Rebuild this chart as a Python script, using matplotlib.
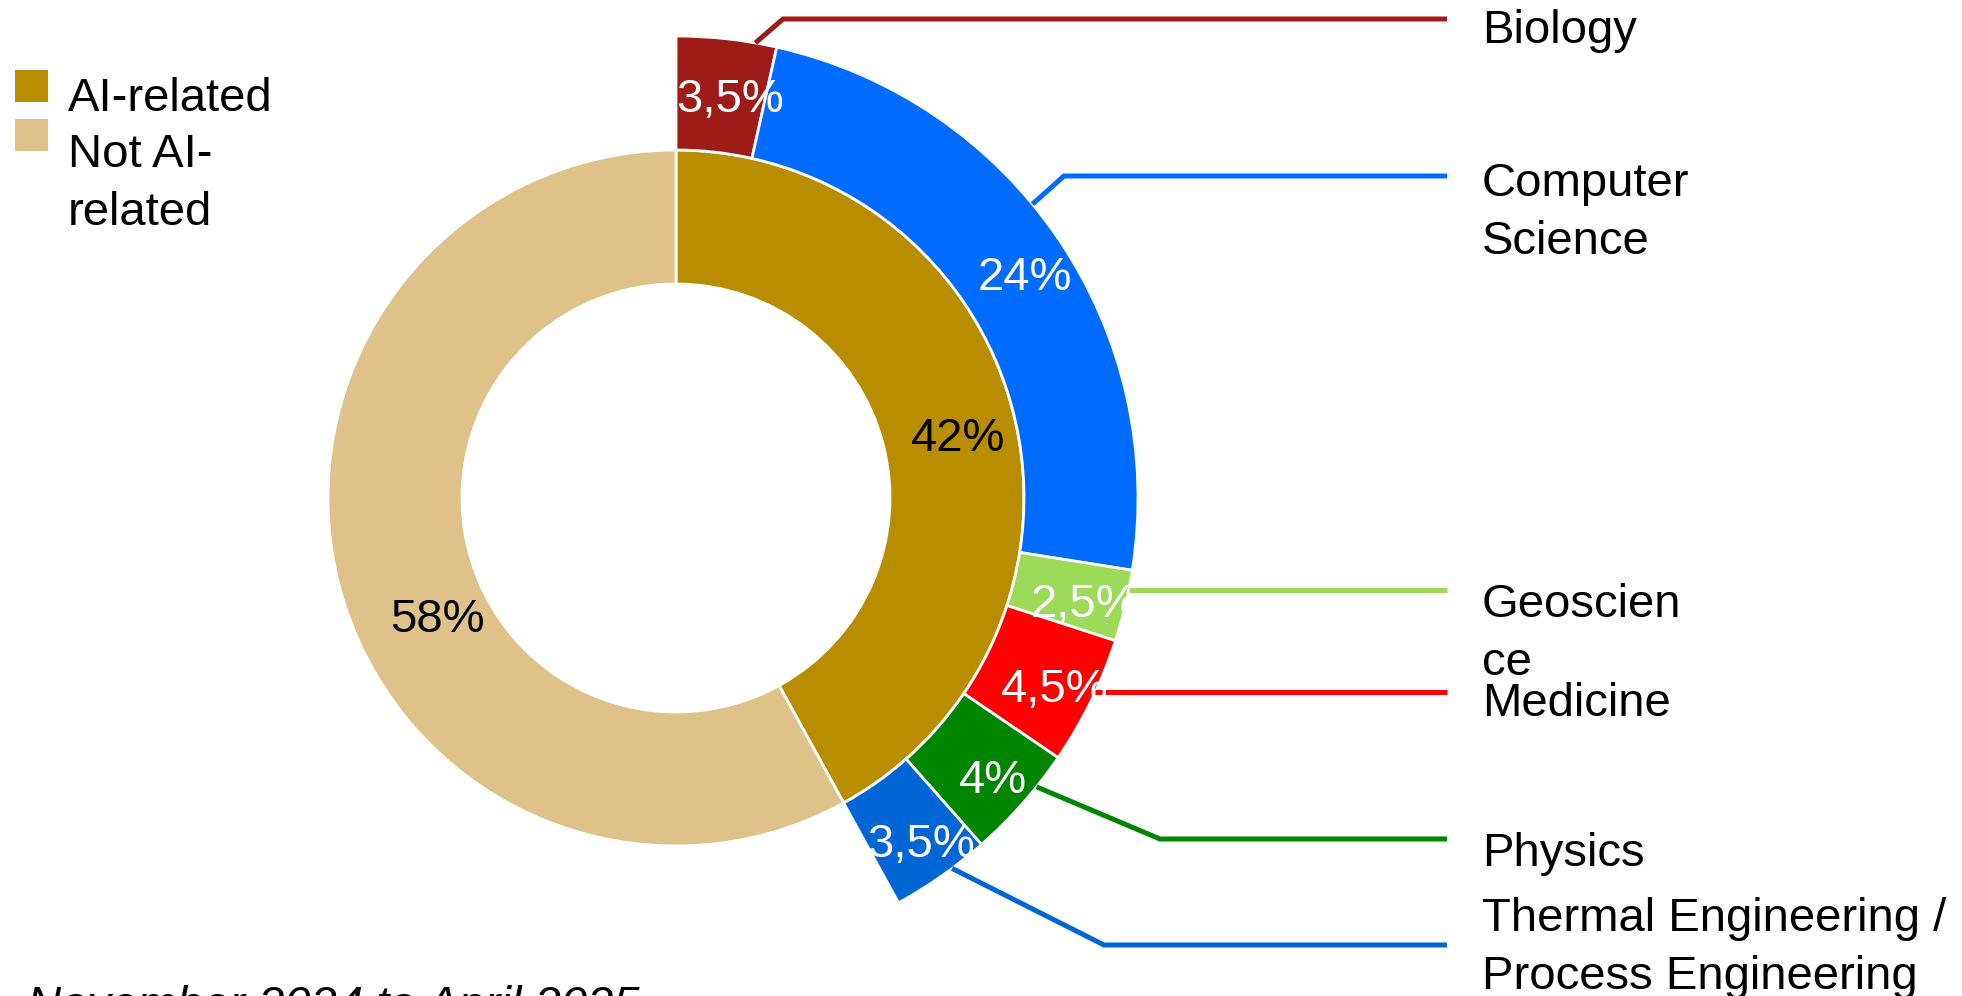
import numpy as np
import matplotlib.pyplot as plt
from matplotlib.patches import Rectangle

plt.rcParams['font.family'] = ['Liberation Sans', 'DejaVu Sans']

# inner ring: share of AI-related work
share_labels = ["AI-related", "Not AI-\nrelated"]
share_values = [42, 58]
share_colors = ["#B88E00", "#DFC18A"]

# outer ring: AI-related split by field (percent of all)
fields = ["Biology", "Computer\nScience", "Geoscien\nce", "Medicine",
          "Physics", "Thermal Engineering /\nProcess Engineering"]
field_values = [3.5, 24, 2.5, 4.5, 4, 3.5]
field_colors = ["#9E1B17", "#006BFF", "#9CDA58", "#FF0000", "#008500", "#0066D6"]

period = "November 2024 to April 2025"

# ─── layout (figure pixels) ───────────────────────────────────────────────
W, H = 1962, 996
CX, CY = 676, 498
R_OUT, R_MID, R_IN = 462, 348, 214
FS = 34
LBL_DX, LBL_DY = 9, -11      # Excel draws the % labels a little right/low

anchor_nudge = [-3.6, 5.3, 2.0, 1.3, 2.7, 1.6]   # deg, where leader leaves the wedge
elbow_x = [783, 1064, None, None, 1160, 1104]
line_y = [19, 176, 590, 692, 839, 945]          # from top
text_top = [9, 162, 583, 682, 832, 897]         # from top
LINE_END, TEXT_X = 1447, 1482


def pct_fmt(p):
    if abs(p - round(p)) < 0.05:
        return f"{round(p)}%"
    return f"{p:.1f}".replace('.', ',') + '%'


fig = plt.figure(figsize=(W / 100, H / 100), dpi=100)
ax = fig.add_axes([0, 0, 1, 1])

inner_w, _, inner_t = ax.pie(
    share_values, radius=R_MID, center=(CX, CY), startangle=90, counterclock=False,
    colors=share_colors, autopct=pct_fmt, pctdistance=0.81,
    wedgeprops=dict(width=R_MID - R_IN, edgecolor='white', linewidth=2),
    textprops=dict(fontsize=FS, color='black'))

# Excel put the 58% label a bit off the wedge middle
w = inner_w[1]
a = np.radians((w.theta1 + w.theta2) / 2 + 10.5)
inner_t[1].set_position((CX + 263 * np.cos(a) - LBL_DX, CY + 263 * np.sin(a)))

outer_w, _, outer_t = ax.pie(
    [v / 100 for v in field_values], normalize=False, radius=R_OUT, center=(CX, CY),
    startangle=90, counterclock=False, colors=field_colors,
    autopct=pct_fmt, pctdistance=0.89,
    wedgeprops=dict(width=R_OUT - R_MID, edgecolor='white', linewidth=2),
    textprops=dict(fontsize=FS, color='white', zorder=5))

for t in list(inner_t) + list(outer_t):
    x, y = t.get_position()
    t.set_position((x + LBL_DX, y + LBL_DY))

# leader lines + field names
for i, w in enumerate(outer_w):
    a = np.radians((w.theta1 + w.theta2) / 2 + anchor_nudge[i])
    x0, y0 = CX + R_OUT * np.cos(a), CY + R_OUT * np.sin(a)
    ly = H - line_y[i]
    if elbow_x[i] is None:
        xs, ys = [x0, LINE_END], [ly, ly]
    else:
        xs, ys = [x0, elbow_x[i], LINE_END], [y0, ly, ly]
    ax.plot(xs, ys, color=field_colors[i], lw=3.6, solid_capstyle='butt',
            solid_joinstyle='miter', zorder=2)
    ax.text(TEXT_X, H - text_top[i], fields[i], fontsize=FS, ha='left', va='top',
            linespacing=1.4, color='black')

# legend
legend_sq = [(15, 70), (15, 119)]
legend_txt = [77, 133]
for (sx, sy), ty, lab, col in zip(legend_sq, legend_txt, share_labels, share_colors):
    ax.add_patch(Rectangle((sx, H - sy - 32), 33, 32, color=col, lw=0))
    ax.text(68, H - ty, lab, fontsize=FS, ha='left', va='top', linespacing=1.4)

# footer runs off the bottom edge, as in the source image
ax.text(27, H - 985, period, fontsize=FS, style='italic', ha='left', va='top')

ax.set_xlim(0, W)
ax.set_ylim(0, H)
ax.set_aspect('equal')
ax.axis('off')

fig.savefig('out.png', dpi=100)
